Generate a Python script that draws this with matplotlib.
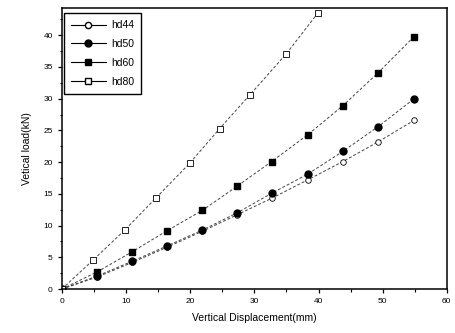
import matplotlib
matplotlib.use("Agg")
import matplotlib.pyplot as plt
from matplotlib.lines import Line2D
from matplotlib.ticker import MultipleLocator

# data
x_common = [0, 5.5, 11.0, 16.4, 21.9, 27.3, 32.7, 38.3, 43.8, 49.3, 54.9]
hd44 = [0, 1.9, 4.2, 6.6, 9.1, 11.7, 14.3, 17.2, 20.1, 23.2, 26.6]
hd50 = [0, 2.05, 4.4, 6.8, 9.3, 12.0, 15.1, 18.1, 21.7, 25.6, 30.0]
hd60 = [0, 2.7, 5.9, 9.2, 12.4, 16.2, 20.1, 24.3, 28.9, 34.1, 39.8]
x_hd80 = [0, 4.9, 9.8, 14.7, 19.9, 24.6, 29.3, 35.0, 39.9]
hd80 = [0, 4.6, 9.3, 14.4, 19.8, 25.3, 30.6, 37.1, 43.5]

labels = ["hd44", "hd50", "hd60", "hd80"]

plt.rcParams["font.family"] = "Liberation Sans"

fig = plt.figure(figsize=(4.55, 3.33), dpi=100)
ax = fig.add_axes([0.136, 0.132, 0.846, 0.844])

line_kw = dict(color="#444444", linewidth=0.7, linestyle=(0, (3, 2)))
ax.plot(x_common, hd44, marker="o", markersize=4, markerfacecolor="white",
        markeredgecolor="black", markeredgewidth=0.6, **line_kw)
ax.plot(x_common, hd50, marker="o", markersize=5, markerfacecolor="black",
        markeredgecolor="black", **line_kw)
ax.plot(x_common, hd60, marker="s", markersize=4.5, markerfacecolor="black",
        markeredgecolor="black", **line_kw)
ax.plot(x_hd80, hd80, marker="s", markersize=4.5, markerfacecolor="white",
        markeredgecolor="black", markeredgewidth=0.6, **line_kw)

handles = [
    Line2D([], [], color="black", lw=0.8, marker="o", markersize=4.5,
           markerfacecolor="white", markeredgecolor="black"),
    Line2D([], [], color="black", lw=0.8, marker="o", markersize=5,
           markerfacecolor="black"),
    Line2D([], [], color="black", lw=0.8, marker="s", markersize=4.5,
           markerfacecolor="black"),
    Line2D([], [], color="black", lw=0.8, marker="s", markersize=4.5,
           markerfacecolor="white", markeredgecolor="black"),
]
leg = ax.legend(handles, labels, loc="upper left", fontsize=7.5,
                fancybox=False, edgecolor="black", framealpha=1,
                handlelength=3.3, borderpad=0.7, labelspacing=0.85,
                handletextpad=0.5, borderaxespad=0.2,
                bbox_to_anchor=(0.0, 0.99))
leg.get_frame().set_linewidth(1.0)

ax.set_xlim(0, 60)
ax.set_ylim(0, 44.3)
ax.xaxis.set_major_locator(MultipleLocator(10))
ax.xaxis.set_minor_locator(MultipleLocator(5))
ax.yaxis.set_major_locator(MultipleLocator(5))
ax.yaxis.set_minor_locator(MultipleLocator(2.5))
ax.tick_params(which="major", direction="out", length=3, width=0.9, labelsize=6)
ax.tick_params(which="minor", direction="out", length=1.8, width=0.8)
for s in ax.spines.values():
    s.set_linewidth(1.1)

ax.set_xlabel("Vertical Displacement(mm)", fontsize=7.5, labelpad=6)
ax.set_ylabel("Vetical load(kN)", fontsize=7.5, labelpad=8)

fig.savefig("out.png", dpi=100)
